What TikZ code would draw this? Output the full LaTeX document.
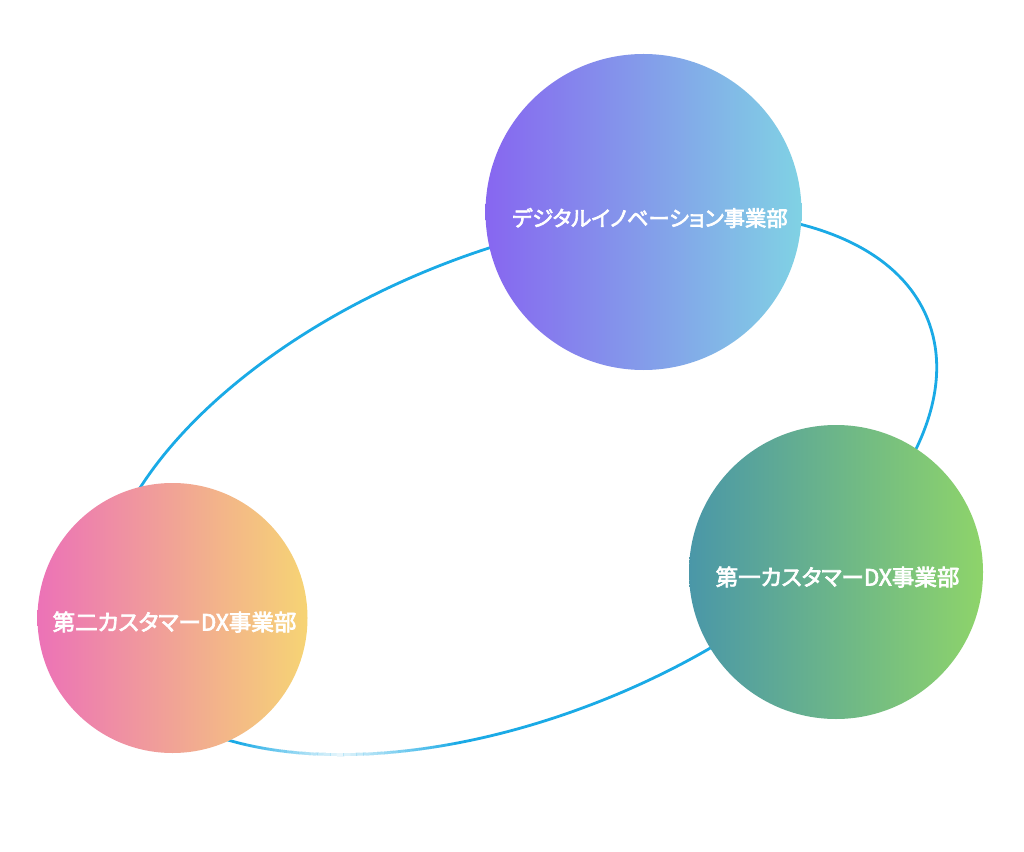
\documentclass[tikz,border=0pt]{standalone}
\usepackage{fontspec}
\newfontfamily\jp{Noto Sans CJK JP}[RawFeature=+palt, BoldFont=Noto Sans CJK JP, BoldFeatures={FakeBold=3}]
\definecolor{ring}{HTML}{1AAAE6}
\definecolor{topL}{HTML}{8766F0}
\definecolor{topR}{HTML}{80D2E4}
\definecolor{lefL}{HTML}{EC72B7}
\definecolor{lefR}{HTML}{F6D474}
\definecolor{rigL}{HTML}{4A97A8}
\definecolor{rigR}{HTML}{8ED46A}
\begin{document}
\begin{tikzpicture}[x=0.75pt,y=0.75pt,
  ball/.style={circle, inner sep=0pt, draw=none},
  lbl/.style={text=white, font=\jp\bfseries\fontsize{16.9pt}{19pt}\selectfont, inner sep=0pt}]
\useasboundingbox (0,0) rectangle (1024,851);
\fill[white] (0,0) rectangle (1024,851);
% ring
\begin{scope}[shift={(519.5,367.4)}, rotate=22]
  \draw[ring, line width=2.1pt] (0,0) ellipse [x radius=440, y radius=232];
  \foreach \s in {216,...,249}{
    \pgfmathsetmacro{\op}{max(0,0.9*(1-abs(\s+0.5-232.5)/17))}
    \draw[white, opacity=\op, line width=2.6pt] (\s:440 and 232) arc [start angle=\s, end angle=\s+1, x radius=440, y radius=232];
  }
\end{scope}
% circles
\node[ball, minimum size=316*0.75pt, left color=topL, right color=topR] (top) at (643.5,639) {};
\node[ball, minimum size=294*0.75pt, left color=rigL, right color=rigR] (right) at (836,279) {};
\node[ball, minimum size=270*0.75pt, left color=lefL, right color=lefR] (left) at (172.5,233) {};
% labels
\node[lbl, font=\jp\bfseries\fontsize{16pt}{19pt}\selectfont] (topl) at (650,633) {デジタルイノベーション事業部};
\node[lbl] (rightl) at (837.5,274) {第一カスタマーDX事業部};
\node[lbl] (leftl) at (174.5,229) {第二カスタマーDX事業部};
\end{tikzpicture}
\end{document}
